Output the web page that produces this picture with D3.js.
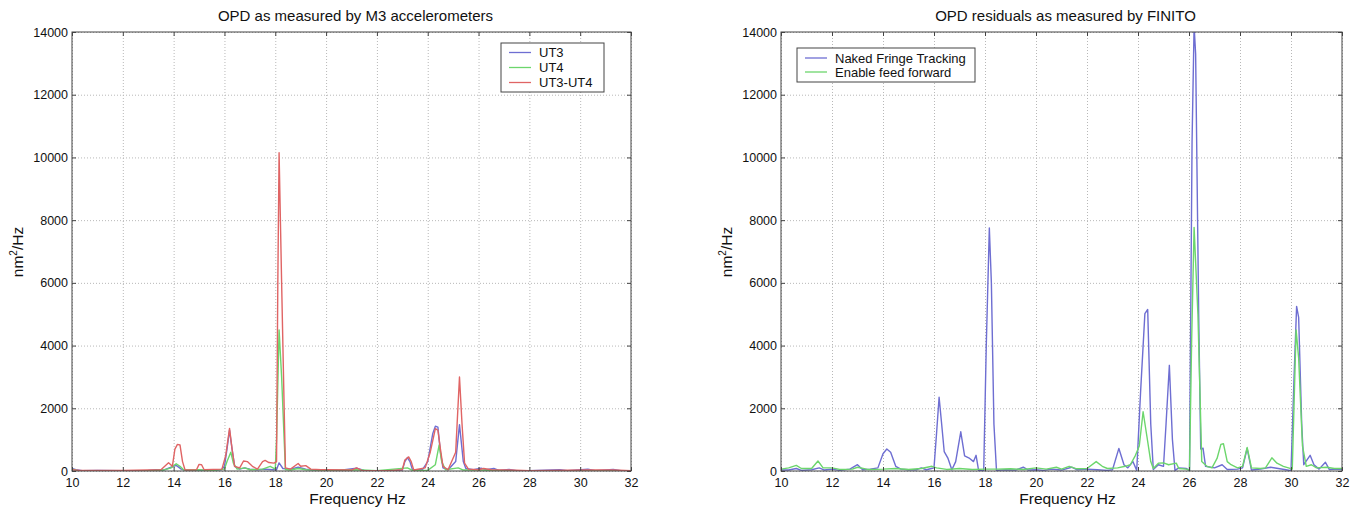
<!DOCTYPE html>
<html>
<head>
<meta charset="utf-8">
<script src="https://cdn.jsdelivr.net/npm/d3@7"></script>
<style>
body { margin: 0; background: #fff; }
svg { display: block; font-family: "Liberation Sans", Arial, sans-serif; }
</style>
</head>
<body>
<svg id="chart" width="1362" height="512"></svg>
<script>
// axis ticks
var xTicks = [10, 12, 14, 16, 18, 20, 22, 24, 26, 28, 30, 32];
var yTicks = [0, 2000, 4000, 6000, 8000, 10000, 12000, 14000];

// left panel: OPD from M3 accelerometers, [Hz, nm^2/Hz]
var ut3 = [[10.0,80],[10.15,40],[10.4,10],[11,15],[12,10],[13,20],[13.3,40],[13.6,30],[13.9,120],[14.1,180],[14.3,60],[14.5,15],[15,30],[15.5,10],[15.9,50],[16.0,150],[16.1,700],[16.2,1300],[16.3,700],[16.4,150],[16.6,60],[16.8,100],[17.0,60],[17.3,40],[17.6,60],[17.9,40],[18.05,40],[18.15,260],[18.3,80],[18.6,60],[18.9,120],[19.2,60],[19.5,30],[20,40],[20.5,20],[21.2,90],[21.5,20],[22,10],[22.5,10],[23.0,30],[23.1,300],[23.2,430],[23.3,300],[23.4,40],[23.8,50],[24.0,300],[24.2,1200],[24.3,1430],[24.4,1400],[24.5,600],[24.6,100],[24.8,40],[25.1,300],[25.25,1480],[25.4,300],[25.5,80],[25.8,40],[26.1,90],[26.3,40],[26.6,80],[26.8,20],[27.2,50],[27.5,10],[28,10],[29.2,40],[29.5,10],[30.3,60],[30.6,10],[31.3,50],[31.6,10],[32,10]];
var ut4 = [[10.0,60],[10.2,20],[11,10],[12,10],[13,10],[13.6,30],[13.9,100],[14.1,230],[14.25,150],[14.4,30],[15,40],[15.5,10],[16.0,60],[16.1,300],[16.25,600],[16.35,250],[16.5,60],[16.8,100],[17.0,40],[17.5,60],[17.8,150],[18.0,60],[18.05,1000],[18.15,4500],[18.25,3000],[18.35,1000],[18.4,50],[18.6,30],[18.9,80],[19.2,40],[20,20],[21.2,40],[22,10],[23.2,100],[23.4,20],[24.0,20],[24.3,200],[24.45,830],[24.55,300],[24.7,40],[25.2,100],[25.4,30],[26,30],[27,10],[32,10]];
var ut3ut4 = [[10.0,40],[10.3,20],[11,20],[12,15],[13,30],[13.5,40],[13.8,260],[13.95,150],[14.05,700],[14.15,850],[14.25,830],[14.35,300],[14.45,30],[14.9,40],[15.0,210],[15.1,200],[15.2,40],[15.9,60],[16.05,500],[16.2,1360],[16.3,700],[16.4,150],[16.6,100],[16.75,320],[16.9,300],[17.1,150],[17.3,60],[17.5,300],[17.6,340],[17.75,270],[17.95,250],[18.05,300],[18.1,6000],[18.15,10150],[18.25,6000],[18.35,2000],[18.4,100],[18.6,60],[18.9,240],[19.0,150],[19.2,170],[19.4,60],[19.8,40],[20,40],[21,30],[21.2,100],[21.4,20],[22.5,10],[23.0,40],[23.1,350],[23.25,450],[23.35,300],[23.45,30],[23.9,100],[24.1,600],[24.3,1350],[24.4,1300],[24.5,700],[24.6,150],[24.8,40],[25.1,600],[25.25,3000],[25.35,1500],[25.45,250],[25.6,60],[26,40],[26.2,80],[26.5,40],[27.2,30],[28,10],[30.3,30],[31.3,30],[32,10]];

// right panel: OPD residuals from FINITO
var naked = [[10.0,30],[10.3,30],[10.6,80],[10.8,20],[11.2,40],[11.5,100],[11.7,30],[12.0,60],[12.3,20],[12.7,60],[13.0,200],[13.2,40],[13.5,60],[13.8,100],[14.0,550],[14.15,700],[14.3,600],[14.5,150],[14.7,60],[15.0,40],[15.3,40],[15.5,100],[15.7,40],[15.9,80],[16.0,100],[16.1,1200],[16.2,2350],[16.3,1500],[16.4,620],[16.55,400],[16.7,40],[16.85,300],[17.05,1250],[17.2,480],[17.4,400],[17.55,300],[17.65,500],[17.75,10],[17.95,20],[18.05,4000],[18.17,7750],[18.25,6000],[18.35,1500],[18.45,20],[18.8,40],[19.2,30],[19.5,120],[19.7,30],[20.0,40],[20.3,20],[20.6,60],[21.0,30],[21.4,120],[21.6,40],[22.0,60],[22.4,40],[22.8,20],[23.0,40],[23.25,720],[23.45,200],[23.6,100],[23.8,300],[23.95,20],[24.1,2500],[24.27,5020],[24.38,5150],[24.5,1500],[24.6,50],[24.8,200],[25.0,150],[25.1,1500],[25.23,3370],[25.35,1000],[25.45,20],[25.6,100],[25.9,80],[26.02,10],[26.12,10500],[26.2,14200],[26.26,13300],[26.38,5000],[26.46,700],[26.55,730],[26.65,150],[27.0,100],[27.3,200],[27.5,50],[27.9,60],[28.1,100],[28.28,720],[28.45,30],[28.8,60],[29.2,120],[29.5,80],[29.8,40],[30.0,10],[30.12,3000],[30.22,5250],[30.3,4900],[30.42,1500],[30.5,200],[30.75,500],[30.9,200],[31.1,60],[31.35,280],[31.5,50],[31.8,60],[32,50]];
var feedForward = [[10.0,60],[10.3,100],[10.6,180],[10.8,80],[11.2,80],[11.45,320],[11.65,100],[12.0,100],[12.3,50],[12.8,60],[13.0,120],[13.4,50],[14.0,60],[14.5,80],[15.0,50],[15.5,80],[15.92,150],[16.1,100],[16.5,50],[17.0,80],[17.5,50],[18.0,60],[18.5,60],[19.0,70],[19.5,50],[20.0,100],[20.4,60],[20.8,120],[21.0,60],[21.3,150],[21.6,70],[22.0,80],[22.36,300],[22.6,150],[22.8,80],[23.2,100],[23.5,150],[23.7,200],[23.9,500],[24.05,800],[24.2,1890],[24.35,1100],[24.5,300],[24.6,80],[24.8,250],[25.0,260],[25.2,200],[25.5,250],[25.6,80],[25.9,60],[26.02,20],[26.1,4000],[26.2,7770],[26.35,5000],[26.5,300],[26.7,150],[26.9,100],[27.1,400],[27.25,850],[27.35,870],[27.5,300],[27.65,200],[27.9,100],[28.1,150],[28.28,750],[28.45,100],[28.8,80],[29.0,100],[29.25,420],[29.45,250],[29.7,150],[29.9,100],[30.05,60],[30.2,4500],[30.3,3600],[30.45,800],[30.6,150],[30.8,200],[31.0,100],[31.4,120],[31.7,80],[32,80]];

var BLUE = "#6e6ed2", GREEN = "#6cd66c", RED = "#e06464";

var svg = d3.select("#chart");

function drawPanel(id, box, title, series, legend) {
    var x = d3.scaleLinear().domain([10, 32]).range([box.left, box.right]);
    var y = d3.scaleLinear().domain([0, 14000]).range([box.bottom, box.top]);
    var h = box.bottom - box.top, w = box.right - box.left;
    var g = svg.append("g").attr("id", id);

    g.append("clipPath").attr("id", id + "-clip")
        .append("rect").attr("x", box.left).attr("y", box.top).attr("width", w).attr("height", h);

    // dotted grid
    g.append("g").attr("class", "grid")
        .attr("transform", "translate(0," + box.bottom + ")")
        .call(d3.axisBottom(x).tickValues(xTicks).tickSize(-h).tickFormat(""));
    g.append("g").attr("class", "grid")
        .attr("transform", "translate(" + box.left + ",0)")
        .call(d3.axisLeft(y).tickValues(yTicks).tickSize(-w).tickFormat(""));
    g.selectAll(".grid .domain").remove();
    g.selectAll(".grid line").attr("stroke", "#b8b8b8").attr("stroke-dasharray", "1,2");

    // series
    var line = d3.line().x(function (d) { return x(d[0]); }).y(function (d) { return y(d[1]); });
    g.append("g").attr("clip-path", "url(#" + id + "-clip)")
        .selectAll("path").data(series).enter().append("path")
        .attr("d", function (s) { return line(s.values); })
        .attr("fill", "none")
        .attr("stroke", function (s) { return s.color; })
        .attr("stroke-width", 1.4)
        .attr("stroke-linejoin", "round");

    // axes, matlab style ticks inside
    var fmt = d3.format("d");
    var bottom = g.append("g").attr("transform", "translate(0," + box.bottom + ")")
        .call(d3.axisBottom(x).tickValues(xTicks).tickFormat(fmt).tickSize(-4).tickPadding(7));
    var left = g.append("g").attr("transform", "translate(" + box.left + ",0)")
        .call(d3.axisLeft(y).tickValues(yTicks).tickFormat(fmt).tickSize(-4).tickPadding(4));
    var top = g.append("g").attr("transform", "translate(0," + box.top + ")")
        .call(d3.axisTop(x).tickValues(xTicks).tickSize(-4).tickFormat(""));
    var right = g.append("g").attr("transform", "translate(" + box.right + ",0)")
        .call(d3.axisRight(y).tickValues(yTicks).tickSize(-4).tickFormat(""));
    [bottom, left, top, right].forEach(function (a) {
        a.select(".domain").remove();
        a.attr("font-family", null).attr("font-size", 12.5);
        a.selectAll("line").attr("stroke", "#444");
        a.selectAll("text").attr("fill", "#111");
    });

    g.append("rect").attr("x", box.left).attr("y", box.top).attr("width", w).attr("height", h)
        .attr("fill", "none").attr("stroke", "#444").attr("stroke-width", 1);

    // titles
    g.append("text").attr("x", (box.left + box.right) / 2 + 4).attr("y", 21)
        .attr("text-anchor", "middle").attr("font-size", 15).attr("fill", "#111").text(title);
    g.append("text").attr("x", (box.left + box.right) / 2 + 6).attr("y", 504)
        .attr("text-anchor", "middle").attr("font-size", 15.5).attr("fill", "#111").text("Frequency Hz");
    var yl = g.append("text")
        .attr("transform", "translate(" + (box.left - 49) + "," + 252 + ") rotate(-90)")
        .attr("text-anchor", "middle").attr("font-size", 15.5).attr("fill", "#111");
    yl.append("tspan").text("nm");
    yl.append("tspan").attr("dy", -6).attr("font-size", 10).text("2");
    yl.append("tspan").attr("dy", 6).text("/Hz");

    // legend
    var lg = g.append("g");
    lg.append("rect").attr("x", legend.x).attr("y", legend.y).attr("width", legend.w).attr("height", legend.h)
        .attr("fill", "#fff").attr("stroke", "#444").attr("stroke-width", 1);
    var items = lg.selectAll("g.item").data(series).enter().append("g").attr("class", "item")
        .attr("transform", function (s, i) { return "translate(" + legend.x + "," + (legend.y + legend.first + i * legend.step) + ")"; });
    items.append("line").attr("x1", 8).attr("x2", 30).attr("y1", 0).attr("y2", 0)
        .attr("stroke", function (s) { return s.color; }).attr("stroke-width", 1.3);
    items.append("text").attr("x", 38).attr("y", 0).attr("dy", "0.35em")
        .attr("font-size", 13).attr("fill", "#111").text(function (s) { return s.name; });
}

drawPanel("m3", { left: 72, right: 631, top: 32, bottom: 471 },
    "OPD as measured by M3 accelerometers",
    [{ name: "UT3", values: ut3, color: BLUE },
     { name: "UT4", values: ut4, color: GREEN },
     { name: "UT3-UT4", values: ut3ut4, color: RED }],
    { x: 501, y: 43, w: 103, h: 49, first: 9.5, step: 15 });

drawPanel("finito", { left: 781, right: 1342, top: 32, bottom: 471 },
    "OPD residuals as measured by FINITO",
    [{ name: "Naked Fringe Tracking", values: naked, color: BLUE },
     { name: "Enable feed forward", values: feedForward, color: GREEN }],
    { x: 797, y: 48, w: 178, h: 34, first: 10, step: 14 });
</script>
</body>
</html>
